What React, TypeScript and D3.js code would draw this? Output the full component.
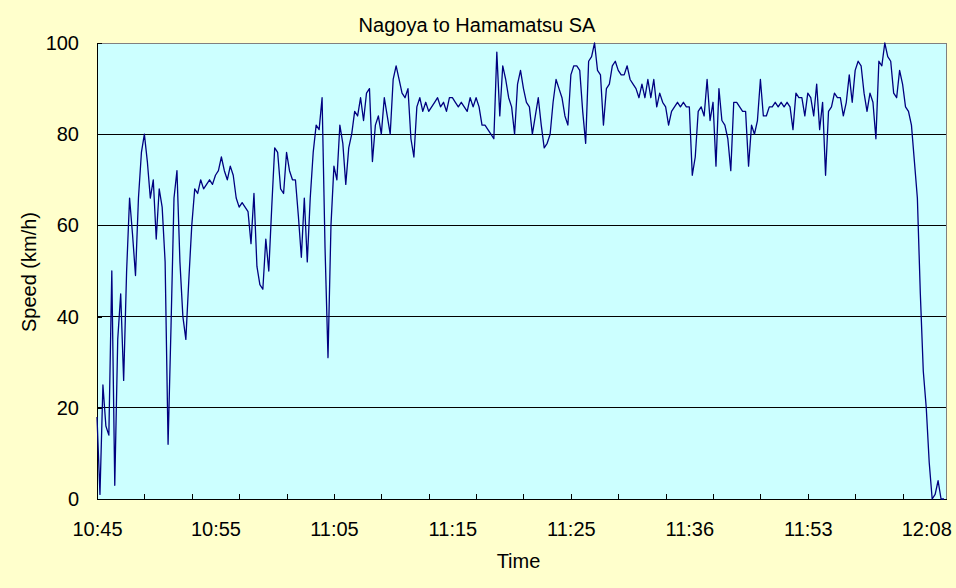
import { useEffect, useRef } from 'react';
import * as d3 from 'd3';

// one reading every 15 s, category axis spans ~4300 s
const SAMPLE_SEC = 15;
const TOTAL_SEC = 4300;
const TICK_SEC = 240;
const LABEL_SEC = 600;

const timeLabels = ['10:45', '10:55', '11:05', '11:15', '11:25', '11:36', '11:53', '12:08'];
const speedTicks = [0, 20, 40, 60, 80, 100];

const speedKmh = [
  18, 1, 25, 16, 14, 50, 3, 35, 45, 26, 50, 66, 58, 49, 66, 76, 80, 74, 66, 70,
  57, 68, 64, 52, 12, 38, 66, 72, 52, 40, 35, 48, 60, 68, 67, 70, 68, 69, 70, 69,
  71, 72, 75, 72, 70, 73, 71, 66, 64, 65, 64, 63, 56, 67, 51, 47, 46, 57, 50, 64,
  77, 76, 68, 67, 76, 72, 70, 70, 62, 53, 66, 52, 66, 76, 82, 81, 88, 55, 31, 60,
  73, 70, 82, 78, 69, 77, 80, 85, 84, 88, 83, 89, 90, 74, 82, 84, 80, 88, 84, 80,
  92, 95, 92, 89, 88, 90, 79, 75, 86, 88, 85, 87, 85, 86, 87, 88, 86, 87, 85, 88,
  88, 87, 86, 87, 86, 85, 88, 86, 88, 86, 82, 82, 81, 80, 79, 98, 84, 95, 92, 88,
  86, 80, 91, 94, 90, 87, 86, 80, 84, 88, 82, 77, 78, 80, 87, 92, 90, 88, 84, 82,
  93, 95, 95, 94, 85, 78, 96, 97, 100, 94, 93, 82, 90, 91, 95, 96, 94, 93, 93, 95,
  92, 91, 90, 88, 91, 88, 92, 88, 92, 86, 89, 87, 86, 82, 85, 86, 87, 86, 87, 86,
  86, 71, 75, 85, 86, 84, 92, 83, 87, 73, 90, 83, 82, 79, 72, 87, 87, 86, 85, 85,
  73, 82, 80, 83, 92, 84, 84, 86, 86, 87, 86, 87, 86, 87, 86, 81, 89, 88, 88, 84,
  89, 88, 84, 91, 81, 87, 71, 85, 86, 89, 88, 88, 84, 87, 93, 87, 94, 96, 95, 89,
  85, 89, 87, 79, 96, 95, 100, 97, 96, 89, 88, 94, 91, 86, 85, 82, 74, 66, 45, 28,
  20, 8, 0, 1, 4, 0, 0,
];

const FONT = '"Liberation Sans", Arial, sans-serif';

export default function App() {
  const ref = useRef<SVGSVGElement>(null);

  useEffect(() => {
    if (!ref.current) return;
    const svg = d3.select(ref.current);
    svg.selectAll('*').remove();

    const W = 956;
    const H = 588;
    const margin = { top: 43, right: 10, bottom: 89, left: 97 };
    const width = W - margin.left - margin.right;
    const height = H - margin.top - margin.bottom;

    svg.append('rect').attr('width', W).attr('height', H).attr('fill', '#FFFFCC');

    const g = svg.append('g').attr('transform', `translate(${margin.left},${margin.top})`);

    const x = d3.scaleLinear().domain([0, TOTAL_SEC]).range([0, width]);
    const y = d3.scaleLinear().domain([0, 100]).range([height, 0]);

    // plot area
    g.append('rect')
      .attr('width', width)
      .attr('height', height)
      .attr('fill', '#CCFFFF')
      .attr('stroke', '#808080')
      .attr('shape-rendering', 'crispEdges');

    // gridlines
    g.selectAll('line.grid')
      .data(speedTicks.filter(t => t > 0 && t < 100))
      .enter()
      .append('line')
      .attr('class', 'grid')
      .attr('x1', 0)
      .attr('x2', width)
      .attr('y1', d => y(d))
      .attr('y2', d => y(d))
      .attr('stroke', '#000')
      .attr('shape-rendering', 'crispEdges');

    // y axis
    const yAxis = g.append('g')
      .call(d3.axisLeft(y).tickValues(speedTicks).tickSize(-5).tickSizeOuter(0).tickPadding(18));
    yAxis.selectAll('line, path').attr('stroke', '#000').attr('shape-rendering', 'crispEdges');
    yAxis.selectAll('text')
      .attr('font-family', FONT)
      .attr('font-size', '20px')
      .attr('fill', '#000');

    // x axis ticks
    const xAxis = g.append('g')
      .attr('transform', `translate(0,${height})`)
      .call(d3.axisBottom(x)
        .tickValues(d3.range(0, TOTAL_SEC, TICK_SEC))
        .tickSize(-5)
        .tickSizeOuter(0)
        .tickFormat(() => ''));
    xAxis.selectAll('line, path').attr('stroke', '#000').attr('shape-rendering', 'crispEdges');

    // x axis labels
    const xLabels = g.append('g')
      .attr('transform', `translate(0,${height})`)
      .call(d3.axisBottom(x)
        .tickValues(d3.range(0, TOTAL_SEC, LABEL_SEC))
        .tickSize(0)
        .tickPadding(23)
        .tickFormat((_, i) => timeLabels[i]));
    xLabels.select('path').remove();
    xLabels.selectAll('text')
      .attr('font-family', FONT)
      .attr('font-size', '20px')
      .attr('fill', '#000');

    // speed line
    const line = d3.line<number>()
      .x((_, i) => x(i * SAMPLE_SEC))
      .y(d => y(d));

    g.append('path')
      .datum(speedKmh)
      .attr('d', line)
      .attr('fill', 'none')
      .attr('stroke', '#000080')
      .attr('stroke-width', 1.3)
      .attr('stroke-linejoin', 'round');

    // titles
    svg.append('text')
      .attr('x', 477)
      .attr('y', 32)
      .attr('text-anchor', 'middle')
      .attr('font-family', FONT)
      .attr('font-size', '20px')
      .text('Nagoya to Hamamatsu SA');

    svg.append('text')
      .attr('x', margin.left + width / 2 - 3)
      .attr('y', 568)
      .attr('text-anchor', 'middle')
      .attr('font-family', FONT)
      .attr('font-size', '20px')
      .text('Time');

    svg.append('text')
      .attr('transform', `translate(36,${margin.top + height / 2 + 1}) rotate(-90)`)
      .attr('text-anchor', 'middle')
      .attr('font-family', FONT)
      .attr('font-size', '20px')
      .text('Speed (km/h)');
  }, []);

  return (
    <svg
      ref={ref}
      width={956}
      height={588}
      style={{ position: 'absolute', left: 0, top: 0 }}
    />
  );
}
